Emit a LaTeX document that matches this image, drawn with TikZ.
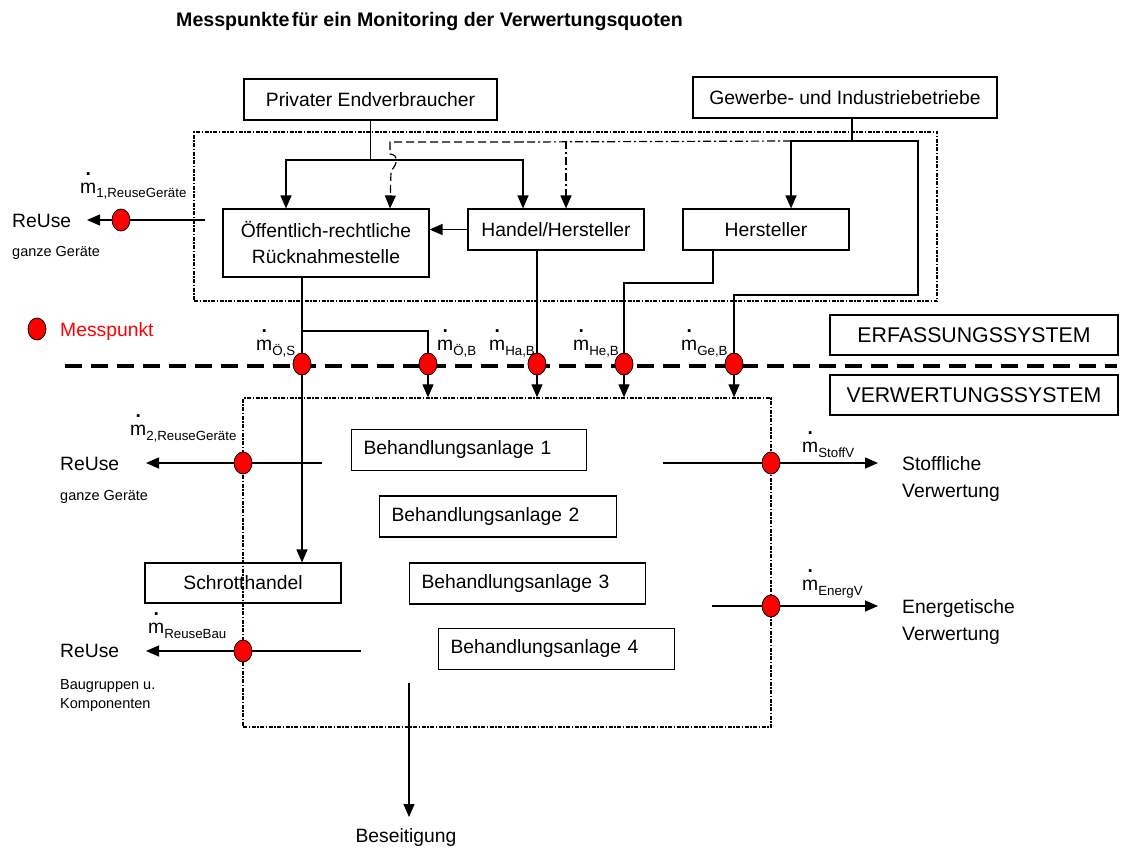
\documentclass[tikz,border=0pt]{standalone}
\usepackage{fontspec}
\setmainfont{Liberation Sans}
\usetikzlibrary{arrows.meta,shapes.geometric,calc}

% mass flow symbol: m with a raised dot and a lowered index
\newsavebox\mdotbox
\newcommand\mflow[1]{\sbox\mdotbox{m}\rlap{\hbox to\wd\mdotbox{\hss\raisebox{17.5pt}{\textbf{.}}\hss}}m\raisebox{-5pt}{\fontsize{13.3}{14}\selectfont #1}}

\begin{document}
\begin{tikzpicture}[x=1pt,y=-1pt,
  box/.style={draw, line width=1.1pt, inner sep=0pt, align=center,
    font=\fontsize{19.3}{26}\selectfont},
  lbox/.style={draw, line width=1.1pt, inner xsep=12pt, inner ysep=0pt,
    align=left, anchor=west, minimum height=41pt,
    font=\fontsize{19.3}{26}\selectfont},
  sysbox/.style={draw, line width=1.1pt, inner sep=0pt, align=center,
    minimum width=288pt, minimum height=40pt,
    font=\fontsize{21.3}{26}\selectfont},
  frame/.style={draw, line width=1.3pt, inner sep=0pt,
    dash pattern=on 4pt off 1.5pt on 1.5pt off 1.5pt},
  sep/.style={line width=3.6pt, dash pattern=on 17pt off 9pt},
  mp/.style={ellipse, draw, fill=red, line width=0.8pt, inner sep=0pt,
    minimum width=18pt, minimum height=22pt},
  flow/.style={line width=1.2pt},
  arr/.style={flow, -{Triangle[length=13pt,width=11pt]}},
  dashdot/.style={dash pattern=on 8pt off 3pt on 2pt off 3pt},
  dashline/.style={dash pattern=on 8pt off 4pt},
  txt/.style={inner sep=0pt, anchor=base west, font=\fontsize{19.3}{26}\selectfont},
  small/.style={inner sep=0pt, anchor=base west, font=\fontsize{14.5}{19}\selectfont},
  flowlbl/.style={inner sep=0pt, anchor=base west, font=\fontsize{19.3}{23}\selectfont}
]
\useasboundingbox (0,0) rectangle (1132,848);

% title
\node[inner sep=0pt, anchor=base west, font=\bfseries\fontsize{19.6}{22}\selectfont]
  (title) at (176,27) {Messpunkte\hspace{0.12em}für ein Monitoring der Verwertungsquoten};

% system frames
\node[frame, minimum width=743pt, minimum height=169pt] (ebox) at (565.5,216.5) {};
\node[frame, minimum width=528pt, minimum height=329pt] (vbox) at (507,562.5) {};

% boundary between collection and recovery
\coordinate (sep-l) at (65,366);
\coordinate (sep-r) at (1117,366);
\draw[sep] (sep-l) -- (sep-r);

% collection side
\node[box, minimum width=253pt, minimum height=41pt] (pe) at (370.5,99.5) {Privater Endverbraucher};
\node[box, minimum width=304pt, minimum height=41pt] (gi) at (845,97.5) {Gewerbe- und Industriebetriebe};
\node[box, minimum width=206pt, minimum height=68pt] (oer) at (326,243) {Öffentlich-rechtliche\\Rücknahmestelle};
\node[box, minimum width=176pt, minimum height=41pt] (hh) at (556,229.5) {Handel/Hersteller};
\node[box, minimum width=166pt, minimum height=41pt] (hs) at (766,229.5) {Hersteller};
\node[sysbox] (erf) at (974,335) {ERFASSUNGSSYSTEM};
\node[sysbox] (ver) at (974,395) {VERWERTUNGSSYSTEM};

% recovery side
\node[box, minimum width=196pt, minimum height=40pt] (sch) at (243,583) {Schrotthandel};
\node[lbox, text width=211pt] (ba1) at (351,450) {Behandlungsanlage 1};
\node[lbox, text width=213pt] (ba2) at (379,516.5) {Behandlungsanlage 2};
\node[lbox, text width=212pt] (ba3) at (409,583.5) {Behandlungsanlage 3};
\node[lbox, text width=212pt] (ba4) at (438,649) {Behandlungsanlage 4};

% measuring points
\node[mp] (p1) at (121,220) {};
\node[mp] (pos) at (302,364) {};
\node[mp] (pob) at (428,364) {};
\node[mp] (pha) at (537,364) {};
\node[mp] (phe) at (624,364) {};
\node[mp] (pge) at (734,364) {};
\node[mp] (p2) at (243,463) {};
\node[mp] (p3) at (243,651) {};
\node[mp] (pst) at (771,463) {};
\node[mp] (pen) at (771,606) {};
\node[mp] (pl) at (37,329) {};
\node[txt, text=red] (pltxt) at (60,336) {Messpunkt};

% private end users
\coordinate (pe-split) at (370.5,160);
\draw[flow] (pe.south) -- (pe-split);
\draw[arr] (pe-split) -| ([xshift=-40pt]oer.north);
\draw[arr] (pe-split) -| ([xshift=-33pt]hh.north);

% trade and industry
\coordinate (gi-split) at (852,141);
\coordinate (gi-left) at (791,141);
\coordinate (gi-bend) at (918,295);
\draw[flow] (gi.south -| gi-split) -- (gi-split);
\draw[arr] (gi-split) -- (gi-left) -- (gi-left |- hs.north);
\draw[flow] (gi-split) -| (gi-bend) -| (pge.north);
\draw[arr] (pge) -- (pge |- vbox.north);

% optional routes from trade and industry
\coordinate (dd-a) at (522,142);
\coordinate (hop-a) at ([xshift=64pt]oer.north |- dd-a);
\coordinate (hop-b) at ($(hop-a)+(0,12)$);
\coordinate (hop-c) at ($(hop-a)+(1,29)$);
\draw[flow, dashdot] (gi-left) -- (dd-a);
\draw[arr, dashdot] ([xshift=10pt]hh.north |- gi-left) -- ([xshift=10pt]hh.north);
\draw[arr, dashline] (dd-a) -- (hop-a) -- (hop-b)
  .. controls ($(hop-b)+(9,1)$) and ($(hop-b)+(8,9)$) .. (hop-c) -- ([xshift=64pt]oer.north);

% trade to public collection point
\draw[arr] (hh.west) -- (hh.west -| oer.east);

% reuse of whole devices at collection
\coordinate (r1-in) at (205,220);
\coordinate (r1-out) at (87,220);
\draw[flow] (r1-in) -- (p1);
\draw[arr] (p1) -- (r1-out);
\node[txt] (ru1) at (12,227) {ReUse};
\node[small] (gg1) at (12,256) {ganze Geräte};
\node[flowlbl] (m1) at (80,193) {\mflow{1,ReuseGeräte}};

% flows into the recovery system
\coordinate (oer-out) at ([xshift=-24pt]oer.south);
\coordinate (ob-split) at (302,331);
\draw[flow] (oer-out) -- (pos);
\draw[arr] (pos) -- (pos |- sch.north);
\draw[flow] (ob-split) -| (pob);
\draw[arr] (pob) -- (pob |- vbox.north);
\draw[flow] ([xshift=-19pt]hh.south) -- (pha);
\draw[arr] (pha) -- (pha |- vbox.north);
\coordinate (he-bend) at (624,283);
\draw[flow] ([xshift=-53pt]hs.south) |- (he-bend) -- (phe);
\draw[arr] (phe) -- (phe |- vbox.north);

\node[flowlbl] (mos) at (256,350) {\mflow{Ö,S}};
\node[flowlbl] (mob) at (437,350) {\mflow{Ö,B}};
\node[flowlbl] (mha) at (489,350) {\mflow{Ha,B}};
\node[flowlbl] (mhe) at (573,350) {\mflow{He,B}};
\node[flowlbl] (mge) at (681,350) {\mflow{Ge,B}};

% outputs of the recovery system
\coordinate (r2-in) at (322,463);
\coordinate (r2-out) at (146,463);
\draw[flow] (r2-in) -- (p2);
\draw[arr] (p2) -- (r2-out);
\node[txt] (ru2) at (60,470) {ReUse};
\node[small] (gg2) at (60,500) {ganze Geräte};
\node[flowlbl] (m2) at (130,435) {\mflow{2,ReuseGeräte}};

\coordinate (r3-in) at (361,651);
\coordinate (r3-out) at (146,651);
\draw[flow] (r3-in) -- (p3);
\draw[arr] (p3) -- (r3-out);
\node[txt] (ru3) at (60,657) {ReUse};
\node[small] (bg3) at (60,689) {Baugruppen u.};
\node[small] (ko3) at (60,708) {Komponenten};
\node[flowlbl] (m3) at (148,633) {\mflow{ReuseBau}};

\coordinate (st-in) at (663,463);
\coordinate (st-out) at (878,463);
\draw[flow] (st-in) -- (pst);
\draw[arr] (pst) -- (st-out);
\node[txt] (sv1) at (902,470) {Stoffliche};
\node[txt] (sv2) at (902,497) {Verwertung};
\node[flowlbl] (mst) at (802,452) {\mflow{StoffV}};

\coordinate (en-in) at (712,606);
\coordinate (en-out) at (878,606);
\draw[flow] (en-in) -- (pen);
\draw[arr] (pen) -- (en-out);
\node[txt] (ev1) at (902,613) {Energetische};
\node[txt] (ev2) at (902,640) {Verwertung};
\node[flowlbl] (men) at (802,590) {\mflow{EnergV}};

\coordinate (bs-in) at (409,683);
\coordinate (bs-out) at (409,817);
\draw[arr] (bs-in) -- (bs-out);
\node[txt, anchor=base] (bes) at (406,842) {Beseitigung};

\end{tikzpicture}
\end{document}
